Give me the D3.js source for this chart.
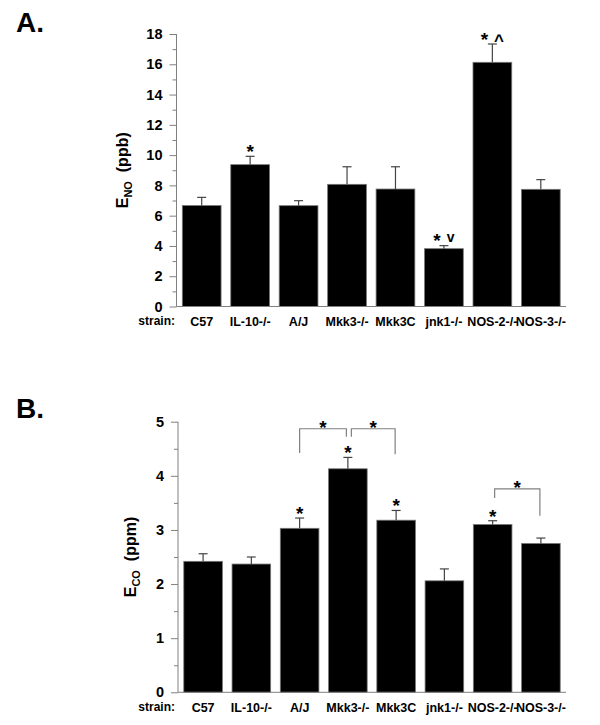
<!DOCTYPE html>
<html><head><meta charset="utf-8">
<script src="https://cdn.jsdelivr.net/npm/d3@7"></script>
<style>
body{margin:0;background:#fff;}
text{font-family:"Liberation Sans",Arial,Helvetica,sans-serif;font-weight:bold;}
</style></head>
<body><svg id="c" width="600" height="725"></svg>
<script>
const strains = ["C57","IL-10-/-","A/J","Mkk3-/-","Mkk3C","jnk1-/-","NOS-2-/-","NOS-3-/-"];
const enoMean = [6.67, 9.37, 6.66, 8.07, 7.76, 3.82, 16.13, 7.74];
const enoErr  = [0.54, 0.55, 0.33, 1.16, 1.47, 0.20, 1.21, 0.64];
const enoMarks = ["", "*", "", "", "", "* v", "* ^", ""];
const ecoMean = [2.42, 2.37, 3.03, 4.13, 3.18, 2.06, 3.10, 2.75];
const ecoErr  = [0.14, 0.13, 0.19, 0.21, 0.18, 0.22, 0.07, 0.10];
const ecoMarks = ["", "", "*", "*", "*", "", "*", ""];
const enoTicks = [0,2,4,6,8,10,12,14,16,18];
const ecoTicks = [0,1,2,3,4,5];
// comparison brackets: [left strain, right strain, top value, left leg end, right leg end]
const ecoBrackets = [
  ["A/J","Mkk3-/-",4.87,4.42,4.72],
  ["Mkk3-/-","Mkk3C",4.87,4.72,4.40],
  ["NOS-2-/-","NOS-3-/-",3.76,3.59,3.26]
];

const svg = d3.select("#c");
const GRAY = "#808080";
const STAR = 19;

function panel(cfg){
  const g = svg.append("g");
  const x = d3.scaleBand().domain(strains).range([cfg.x0, 566]).paddingInner(0.2).paddingOuter(0.12);
  const y = d3.scaleLinear().domain([0, cfg.max]).range([cfg.yb, cfg.yt]);
  g.append("text").attr("x",16).attr("y",cfg.letterY).attr("font-size",28).text(cfg.letter);
  g.selectAll("rect.bar").data(cfg.mean).join("rect")
    .attr("x",(d,i)=>x(strains[i])).attr("width",x.bandwidth())
    .attr("y",d=>y(d)).attr("height",d=>y(0)-y(d))
    .attr("fill","#000").attr("stroke","#777").attr("stroke-width",0.8);
  cfg.mean.forEach((m,i)=>{
    const cx = x(strains[i]) + x.bandwidth()/2;
    const top = y(m + cfg.err[i]);
    g.append("line").attr("x1",cx).attr("x2",cx).attr("y1",y(m)).attr("y2",top).attr("stroke","#444").attr("stroke-width",1.2);
    g.append("line").attr("x1",cx-4.5).attr("x2",cx+4.5).attr("y1",top).attr("y2",top).attr("stroke","#444").attr("stroke-width",1.2);
    const mk = cfg.marks[i];
    if(mk){
      const parts = mk.split(" ");
      const t = g.append("text").attr("x",cx).attr("y",top-9+10.8).attr("text-anchor","middle").attr("font-size",STAR);
      t.append("tspan").text(parts[0]);
      if(parts[1]){
        if(parts[1]==="v"){
          t.append("tspan").attr("dx",6).attr("dy",-5).attr("font-size",14).text("v");
        } else {
          t.append("tspan").attr("dx",6).attr("dy",0).attr("font-size",17).text(parts[1]);
        }
      }
    }
  });
  const minor = [];
  for(let i=0;i<cfg.ticks.length-1;i++) minor.push((cfg.ticks[i]+cfg.ticks[i+1])/2);
  const ax = g.append("g").attr("transform",`translate(${cfg.x0},0)`)
    .call(d3.axisLeft(y).tickValues(cfg.ticks).tickSize(7).tickPadding(7).tickFormat(d3.format("d")));
  ax.select(".domain").attr("stroke",GRAY).attr("d",`M0,${cfg.yt}V${cfg.yb}`);
  ax.selectAll(".tick line").attr("stroke",GRAY);
  ax.selectAll(".tick text").attr("font-size",14.5).attr("font-family","'Liberation Sans',Arial,sans-serif").attr("font-weight","bold").attr("fill","#000");
  const ax2 = g.append("g").attr("transform",`translate(${cfg.x0},0)`)
    .call(d3.axisLeft(y).tickValues(minor).tickSize(4).tickFormat(""));
  ax2.select(".domain").remove();
  ax2.selectAll(".tick line").attr("stroke",GRAY);
  const xa = g.append("g").attr("transform",`translate(0,${cfg.yb})`)
    .call(d3.axisBottom(x).tickSize(0).tickPadding(11));
  xa.select(".domain").attr("stroke",GRAY).attr("d",`M${cfg.x0},0H566`);
  xa.selectAll(".tick text").attr("font-size",12.5).attr("font-family","'Liberation Sans',Arial,sans-serif").attr("font-weight","bold").attr("fill","#000");
  g.append("text").attr("x",175).attr("y",cfg.yb+18.5).attr("text-anchor","end").attr("font-size",12).text("strain:");
  const yl = g.append("text").attr("transform",`translate(${cfg.labelX},${(cfg.yt+cfg.yb)/2}) rotate(-90)`)
    .attr("text-anchor","middle").attr("font-size",16);
  yl.append("tspan").text("E");
  yl.append("tspan").attr("font-size",11).attr("dy",4).text(cfg.sub);
  yl.append("tspan").attr("dy",-4).text("\u00a0\u00a0(" + cfg.unit + ")");
  return {g,x,y};
}

panel({letter:"A.", letterY:32, x0:176.5, yt:34, yb:306.5, max:18, ticks:enoTicks, mean:enoMean, err:enoErr, marks:enoMarks, labelX:128, sub:"NO", unit:"ppb"});
const B = panel({letter:"B.", letterY:418, x0:178, yt:421.7, yb:692.3, max:5, ticks:ecoTicks, mean:ecoMean, err:ecoErr, marks:ecoMarks, labelX:136, sub:"CO", unit:"ppm"});

ecoBrackets.forEach(([a,b,top,l,r],k)=>{
  const x = B.x, y = B.y, bw = x.bandwidth()/2;
  const xl = x(a)+bw + (k===1?3.5:(k===2?2:0));
  const xr = x(b)+bw - (k===0?1.5:1);
  B.g.append("path").attr("d",`M${xl},${y(l)}V${y(top)}H${xr}V${y(r)}`)
    .attr("fill","none").attr("stroke",GRAY).attr("stroke-width",1.2);
  B.g.append("text").attr("x",(xl+xr)/2).attr("y",y(top)-6+10.8).attr("text-anchor","middle").attr("font-size",STAR).text("*");
});
</script></body></html>
